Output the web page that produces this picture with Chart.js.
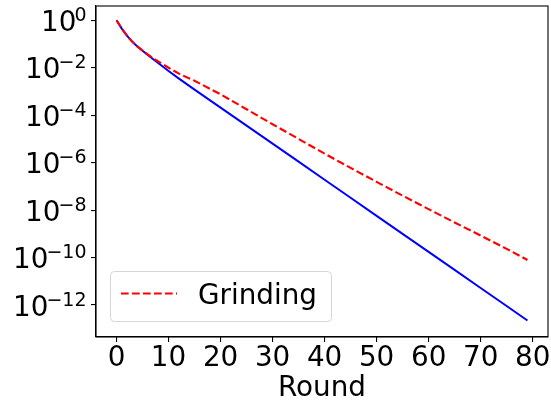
<!DOCTYPE html>
<html>
<head>
  <title>Grinding</title>
  <script src="https://cdn.jsdelivr.net/npm/chart.js"></script>
  <style>
    html, body { margin: 0; padding: 0; background: #fff; }
    canvas { display: block; }
  </style>
</head>
<body>
  <canvas id="roundChart" width="551" height="408"></canvas>

  <script>
    // values (sparser where the curves are straight)
    const rounds = [0, 1, 2, 3, 4, 5, 6, 7, 8, 10, 12, 15, 20, 25, 30, 35, 40, 45, 50, 55, 60, 65, 70, 75, 79];
    const baseline = [1, 0.447, 0.224, 0.126, 0.0794, 0.0525, 0.0347, 0.0234, 0.0158, 7.24e-3, 3.47e-3, 1.2e-3,
      2.09e-4, 3.63e-5, 6.31e-6, 1.1e-6, 1.91e-7, 3.31e-8, 5.75e-9, 1e-9, 1.74e-10, 3.02e-11, 5.25e-12, 9.12e-13, 2.24e-13];
    const grinding = [1, 0.447, 0.224, 0.126, 0.0794, 0.0525, 0.0363, 0.0257, 0.0186, 0.01, 5.62e-3, 2.82e-3,
      7.59e-4, 1.78e-4, 4.17e-5, 1e-5, 2.4e-6, 6.03e-7, 1.55e-7, 4.07e-8, 1.1e-8, 3.02e-9, 8.51e-10, 2.34e-10, 7.94e-11];
    const xTicks = [0, 10, 20, 30, 40, 50, 60, 70, 80];
    const yTicks = [1, 1e-2, 1e-4, 1e-6, 1e-8, 1e-10, 1e-12];

    const FONT = 'DejaVu Sans';

    // box around the plot area
    const frame = {
      id: 'frame',
      afterDatasetsDraw(chart) {
        const a = chart.chartArea, ctx = chart.ctx;
        ctx.save();
        ctx.strokeStyle = '#000';
        ctx.lineWidth = 1.1;
        ctx.strokeRect(a.left, a.top, a.right - a.left, a.bottom - a.top);
        ctx.restore();
      }
    };

    // 10^n labels with a raised exponent
    const yLabels = {
      id: 'yLabels',
      afterDraw(chart) {
        const ctx = chart.ctx, s = chart.scales.y;
        ctx.save();
        ctx.fillStyle = '#000';
        ctx.textBaseline = 'alphabetic';
        ctx.textAlign = 'right';
        s.ticks.forEach(t => {
          const y = s.getPixelForValue(t.value);
          const e = Math.round(Math.log10(t.value));
          const sup = e < 0 ? '\u2212' + (-e) : String(e);
          const right = s.right - 9.5;
          ctx.font = '19px "' + FONT + '"';
          const w = ctx.measureText(sup).width;
          ctx.fillText(sup, right, y + 0.5);
          ctx.font = '27.8px "' + FONT + '"';
          ctx.fillText('10', right - w + 2, y + 10.5);
        });
        ctx.restore();
      }
    };

    // legend in the lower left, only the Grinding line
    const legendBox = {
      id: 'legendBox',
      afterDraw(chart) {
        const ds = chart.data.datasets[1];
        const a = chart.chartArea, ctx = chart.ctx;
        const x = a.left + 14, y = a.bottom - 66, w = 221, h = 50;
        ctx.save();
        ctx.beginPath();
        ctx.roundRect(x + 0.5, y + 0.5, w, h, 4);
        ctx.fillStyle = 'rgba(255,255,255,0.8)';
        ctx.fill();
        ctx.strokeStyle = '#d6d6d6';
        ctx.lineWidth = 1;
        ctx.stroke();
        ctx.beginPath();
        ctx.setLineDash(ds.borderDash);
        ctx.strokeStyle = ds.borderColor;
        ctx.lineWidth = ds.borderWidth;
        ctx.moveTo(x + 11, y + 22.5);
        ctx.lineTo(x + 67, y + 22.5);
        ctx.stroke();
        ctx.setLineDash([]);
        ctx.fillStyle = '#000';
        ctx.font = '27.8px "' + FONT + '"';
        ctx.textBaseline = 'alphabetic';
        ctx.fillText(ds.label, x + 88, y + 32.5);
        ctx.restore();
      }
    };

    new Chart(document.getElementById('roundChart'), {
      type: 'line',
      data: {
        datasets: [
          {
            label: 'Baseline',
            data: rounds.map((r, i) => ({ x: r, y: baseline[i] })),
            borderColor: '#0000ff',
            borderWidth: 2,
            pointRadius: 0,
            tension: 0,
            fill: false,
            order: 1   // drawn under the red line
          },
          {
            label: 'Grinding',
            data: rounds.map((r, i) => ({ x: r, y: grinding[i] })),
            borderColor: '#ff0000',
            borderWidth: 2.1,
            borderDash: [7.7, 3.3],
            pointRadius: 0,
            tension: 0,
            fill: false,
            order: 0
          }
        ]
      },
      options: {
        responsive: false,
        animation: false,
        devicePixelRatio: 1,
        layout: { padding: { top: 6, right: 3, left: 0, bottom: 0 } },
        plugins: { legend: { display: false }, tooltip: { enabled: false } },
        scales: {
          x: {
            type: 'linear',
            min: -3.95,
            max: 82.95,
            afterBuildTicks: s => { s.ticks = xTicks.map(v => ({ value: v })); },
            afterFit: s => { s.height = 71; },
            grid: { drawOnChartArea: false, drawTicks: true, tickLength: 5, color: '#000', lineWidth: 1.1 },
            border: { display: true, color: '#000', width: 1.1 },
            ticks: { color: '#000', padding: 0, maxRotation: 0, autoSkip: false, font: { family: FONT, size: 27.8 } },
            title: { display: true, text: 'Round', color: '#000', font: { family: FONT, size: 27.8 }, padding: { top: 0, bottom: 3 } }
          },
          y: {
            type: 'logarithmic',
            min: 4.5e-14,
            max: 4.0,
            afterBuildTicks: s => { s.ticks = yTicks.map(v => ({ value: v })); },
            afterFit: s => { s.width = 96; },
            grid: { drawOnChartArea: false, drawTicks: true, tickLength: 5, color: '#000', lineWidth: 1.1 },
            border: { display: true, color: '#000', width: 1.1 },
            ticks: { display: false }
          }
        }
      },
      plugins: [frame, yLabels, legendBox]
    });
  </script>
</body>
</html>
